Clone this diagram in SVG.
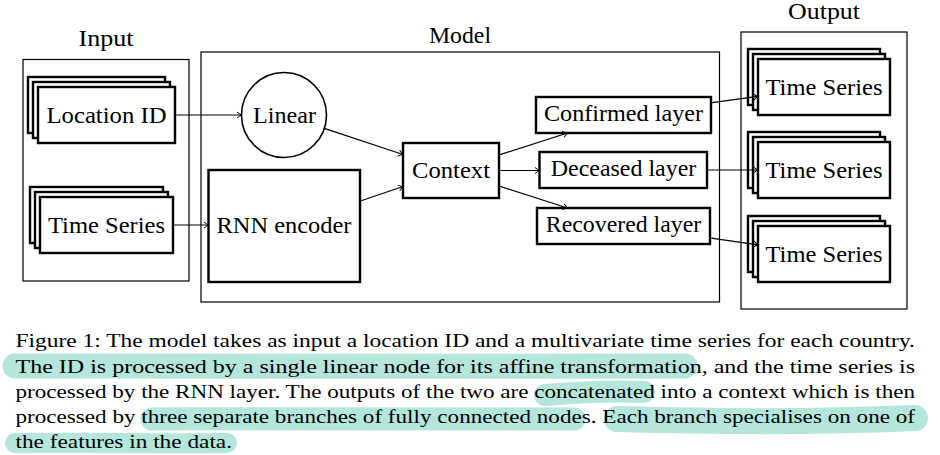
<svg xmlns="http://www.w3.org/2000/svg" width="940" height="455" viewBox="0 0 940 455" font-family="'Liberation Serif', 'Times New Roman', serif">
<style>
text{font-family:'Liberation Serif','Times New Roman',serif;fill:#000}
.lbl{font-size:23px;text-anchor:middle}
.cap{font-size:18.5px}
.hltxt{fill:#0b2e2a}
.frame{fill:none;stroke:#000;stroke-width:1.2}
.box{fill:#fff;stroke:#000;stroke-width:2.4}
.circ{fill:#fff;stroke:#000;stroke-width:1.6}
.conn{fill:none;stroke:#000;stroke-width:1.2;marker-end:url(#arr)}
.hl{fill:none;stroke:#b4e6dc;stroke-linecap:round;stroke-linejoin:round}
</style>
<defs>
<marker id="arr" markerUnits="userSpaceOnUse" markerWidth="10" markerHeight="10" viewBox="-6 -5 7 10" refX="0" refY="0" orient="auto">
<path d="M-4.5,-3 Q-1.8,-0.9 0,0 Q-1.8,0.9 -4.5,3" fill="none" stroke="#000" stroke-width="1"/>
</marker>
</defs>
<rect width="940" height="455" fill="#fff"/>

<g id="frames">
<rect class="frame" x="23" y="59.5" width="166" height="221.5"/>
<text class="lbl" x="106" y="45.7" textLength="55" lengthAdjust="spacingAndGlyphs">Input</text>
<rect class="frame" x="201" y="52" width="518.5" height="250"/>
<text class="lbl" x="460" y="42.7" textLength="62" lengthAdjust="spacingAndGlyphs">Model</text>
<rect class="frame" x="741" y="32" width="166" height="277"/>
<text class="lbl" x="824" y="18.5" textLength="72" lengthAdjust="spacingAndGlyphs">Output</text>
</g>

<g id="location-id">
<rect class="box" x="28" y="77" width="137" height="56"/>
<rect class="box" x="33" y="82" width="137" height="56"/>
<rect class="box" x="38" y="87" width="137" height="56"/>
<text class="lbl" x="106.5" y="122.7" textLength="120" lengthAdjust="spacingAndGlyphs">Location ID</text>
</g>

<g id="time-series-in">
<rect class="box" x="30" y="187" width="133" height="56"/>
<rect class="box" x="35" y="192" width="133" height="56"/>
<rect class="box" x="40" y="197" width="133" height="56"/>
<text class="lbl" x="106.5" y="233.3" textLength="117" lengthAdjust="spacingAndGlyphs">Time Series</text>
</g>

<g id="linear">
<circle class="circ" cx="284" cy="115" r="42.5"/>
<text class="lbl" x="284.5" y="123.3" textLength="63" lengthAdjust="spacingAndGlyphs">Linear</text>
</g>

<g id="rnn-encoder">
<rect class="box" x="208.5" y="170" width="151.5" height="112"/>
<text class="lbl" x="284" y="233.3" textLength="135" lengthAdjust="spacingAndGlyphs">RNN encoder</text>
</g>

<g id="context">
<rect class="box" x="403" y="143" width="96" height="55"/>
<text class="lbl" x="451" y="178.3" textLength="78" lengthAdjust="spacingAndGlyphs">Context</text>
</g>

<g id="confirmed-layer">
<rect class="box" x="536" y="97" width="175" height="36"/>
<text class="lbl" x="623.5" y="120.7" textLength="159" lengthAdjust="spacingAndGlyphs">Confirmed layer</text>
</g>

<g id="deceased-layer">
<rect class="box" x="539.5" y="152" width="167.5" height="36"/>
<text class="lbl" x="623.5" y="175.7" textLength="145.5" lengthAdjust="spacingAndGlyphs">Deceased layer</text>
</g>

<g id="recovered-layer">
<rect class="box" x="537" y="208" width="173" height="36"/>
<text class="lbl" x="623.5" y="231.7" textLength="155.5" lengthAdjust="spacingAndGlyphs">Recovered layer</text>
</g>

<g id="time-series-out-1">
<rect class="box" x="748" y="49" width="132" height="56"/>
<rect class="box" x="753" y="54" width="132" height="56"/>
<rect class="box" x="758" y="59" width="132" height="56"/>
<text class="lbl" x="824" y="95" textLength="117" lengthAdjust="spacingAndGlyphs">Time Series</text>
</g>

<g id="time-series-out-2">
<rect class="box" x="748" y="132" width="132" height="56"/>
<rect class="box" x="753" y="137" width="132" height="56"/>
<rect class="box" x="758" y="142" width="132" height="56"/>
<text class="lbl" x="824" y="178.3" textLength="117" lengthAdjust="spacingAndGlyphs">Time Series</text>
</g>

<g id="time-series-out-3">
<rect class="box" x="748" y="216" width="132" height="56"/>
<rect class="box" x="753" y="221" width="132" height="56"/>
<rect class="box" x="758" y="226" width="132" height="56"/>
<text class="lbl" x="824" y="261.7" textLength="117" lengthAdjust="spacingAndGlyphs">Time Series</text>
</g>

<g id="connectors">
<line class="conn" x1="176.2" y1="115" x2="241.5" y2="115"/>
<line class="conn" x1="174.2" y1="225" x2="208.5" y2="225"/>
<line class="conn" x1="324.3" y1="128.4" x2="403" y2="154.5"/>
<line class="conn" x1="361.2" y1="200.8" x2="403" y2="186.5"/>
<line class="conn" x1="500.2" y1="154.6" x2="567.5" y2="133"/>
<line class="conn" x1="500.2" y1="170.5" x2="539.5" y2="170.5"/>
<line class="conn" x1="500.2" y1="186.4" x2="567.5" y2="208"/>
<line class="conn" x1="712.2" y1="102.7" x2="758" y2="96.3"/>
<line class="conn" x1="708.2" y1="170" x2="758" y2="170"/>
<line class="conn" x1="711.2" y1="238.2" x2="758" y2="244.8"/>
</g>

<g id="highlights">
<path class="hl" stroke-width="25" d="M15,366 C200,365 450,367 685,366"/>
<path class="hl" stroke-width="22" d="M545,395 C580,392 620,391 644,392"/>
<path class="hl" stroke-width="23" d="M152,419 C300,418 450,420 574,419"/>
<path class="hl" stroke-width="26" d="M617,419 C700,421 800,423 915,418"/>
<path class="hl" stroke-width="20" d="M15,443 C80,442 160,444 227,443"/>
</g>

<g id="caption">
<text class="cap" x="15.5" y="347.3" textLength="899.5" lengthAdjust="spacingAndGlyphs">Figure 1: The model takes as input a location ID and a multivariate time series for each country.</text>
<text class="cap" x="15.5" y="372.7" textLength="899.5" lengthAdjust="spacingAndGlyphs">The ID is processed by a single linear node for its affine transformation, and the time series is</text>
<text class="cap" x="15.5" y="397.7" textLength="899.5" lengthAdjust="spacingAndGlyphs">processed by the RNN layer. The outputs of the two are concatenated into a context which is then</text>
<text class="cap" x="15.5" y="423" textLength="899.5" lengthAdjust="spacingAndGlyphs">processed by three separate branches of fully connected nodes. Each branch specialises on one of</text>
<text class="cap" x="15.5" y="448" textLength="216.5" lengthAdjust="spacingAndGlyphs">the features in the data.</text>
</g>
</svg>
